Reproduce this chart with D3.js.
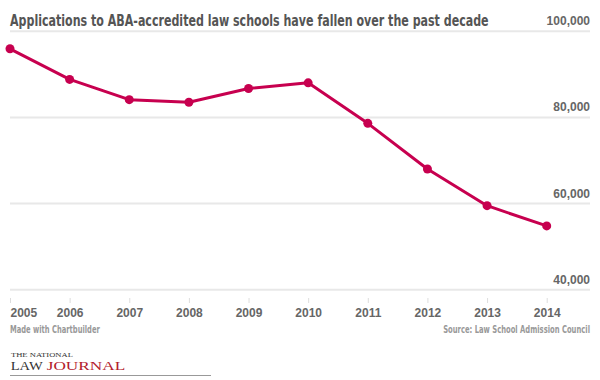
<!DOCTYPE html>
<html lang="en">
  <head>
    <meta charset="utf-8">
    <title>Applications to ABA-accredited law schools</title>
    <script type="text/javascript" src="https://d3js.org/d3.v7.min.js"></script>
    <style type="text/css">
      html, body { margin: 0; padding: 0; background: #fff; }
      .title { font-family: "Liberation Sans Narrow", "DejaVu Sans Condensed", sans-serif; font-weight: bold; font-size: 15.5px; fill: #555; }
      .axis text { font-family: "Liberation Sans", Arial, sans-serif; font-weight: bold; font-size: 12px; fill: #666; }
      .foot { font-family: "Liberation Sans Narrow", "DejaVu Sans Condensed", sans-serif; font-weight: bold; font-size: 10px; fill: #999; }
      .logo { font-family: "Liberation Serif", "DejaVu Serif", serif; }
    </style>
  </head>
  <body>
    <script type="text/javascript">
      // data
      var years = ["2005", "2006", "2007", "2008", "2009", "2010", "2011", "2012", "2013", "2014"];
      var applications = [95800, 88700, 84000, 83400, 86600, 87900, 78500, 67900, 59400, 54700];
      var yTicks = [40000, 60000, 80000, 100000];

      var w = 600, h = 380;
      var red = "#c7004f";

      var svg = d3.select("body")
        .append("svg")
        .attr("width", w)
        .attr("height", h);

      var x = d3.scalePoint().domain(years).range([10, 546.7]);
      var y = d3.scaleLinear().domain([40000, 100000]).range([289.3, 30.7]);

      // place a text at (px,py) and squeeze it sideways to a given width
      function squeeze(sel, px, py, width) {
        var len = sel.node().getComputedTextLength();
        var s = width / len;
        sel.attr("x", 0).attr("y", 0)
          .attr("transform", "translate(" + px + "," + py + ") scale(" + s + ",1)");
        return sel;
      }

      // y gridlines + labels
      var yAxis = svg.append("g")
        .attr("class", "axis")
        .attr("transform", "translate(590,0)")
        .call(d3.axisLeft(y).tickValues(yTicks).tickSize(580).tickFormat(d3.format(",")));
      yAxis.select(".domain").remove();
      yAxis.selectAll(".tick line").attr("stroke", "#e8e8e8").attr("stroke-width", 2);
      yAxis.selectAll(".tick text")
        .attr("x", 0).attr("dy", null).attr("y", -6)
        .attr("text-anchor", "end");

      // x axis ticks + years
      var xAxis = svg.append("g")
        .attr("class", "axis")
        .attr("transform", "translate(0,298)")
        .call(d3.axisBottom(x).tickSize(5));
      xAxis.select(".domain").remove();
      xAxis.selectAll(".tick line").attr("stroke", "#ddd");
      xAxis.selectAll(".tick text")
        .attr("y", 19).attr("dy", null)
        .attr("text-anchor", function(d, i) { return i === 0 ? "start" : "middle"; });

      // title
      var title = svg.append("text")
        .attr("class", "title")
        .text("Applications to ABA-accredited law schools have fallen over the past decade");
      squeeze(title, 10, 25.5, 479);

      // line
      var line = d3.line()
        .x(function(d, i) { return x(years[i]); })
        .y(function(d) { return y(d); });

      svg.append("path")
        .datum(applications)
        .attr("d", line)
        .attr("fill", "none")
        .attr("stroke", red)
        .attr("stroke-width", 3)
        .attr("stroke-linejoin", "round");

      svg.selectAll("circle.pt")
        .data(applications)
        .enter()
        .append("circle")
        .attr("class", "pt")
        .attr("cx", function(d, i) { return x(years[i]); })
        .attr("cy", function(d) { return y(d); })
        .attr("r", 4.5)
        .attr("fill", red);

      // footer
      var made = svg.append("text")
        .attr("class", "foot")
        .text("Made with Chartbuilder");
      squeeze(made, 10, 333, 90);
      var src = svg.append("text")
        .attr("class", "foot")
        .attr("text-anchor", "end")
        .text("Source: Law School Admission Council");
      squeeze(src, 590, 333, 147);

      // logo
      var logo = svg.append("g").attr("class", "logo");
      var nat = logo.append("text")
        .attr("font-size", 7).attr("fill", "#333")
        .text("THE NATIONAL");
      squeeze(nat, 11, 356.5, 62);
      var law = logo.append("text")
        .attr("font-size", 13.5).attr("fill", "#333")
        .text("LAW");
      squeeze(law, 10.7, 369.5, 32);
      var jour = logo.append("text")
        .attr("font-size", 13.5).attr("fill", "#b3202c")
        .text("JOURNAL");
      squeeze(jour, 46.7, 369.5, 78.5);
      logo.append("line")
        .attr("x1", 10).attr("x2", 211)
        .attr("y1", 375.5).attr("y2", 375.5)
        .attr("stroke", "#999").attr("stroke-width", 1);
    </script>
  </body>
</html>
